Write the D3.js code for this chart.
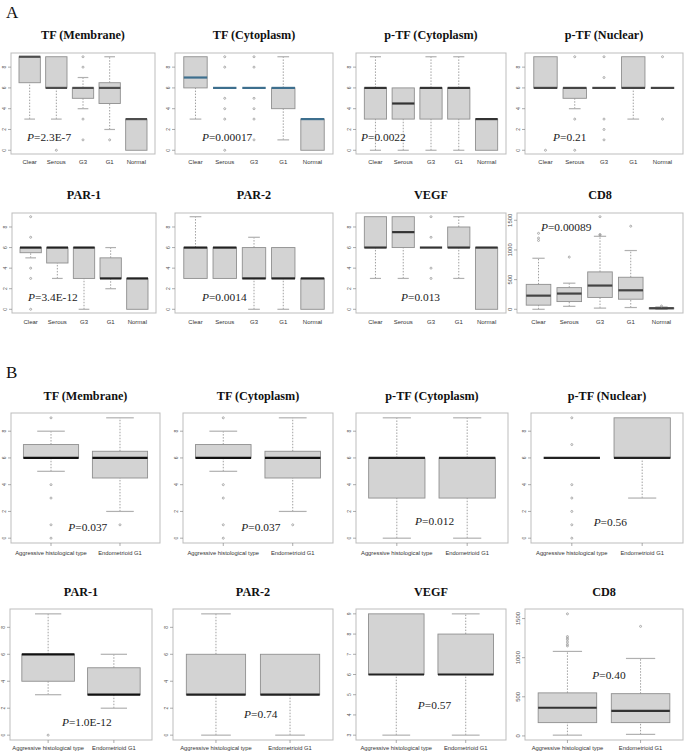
<!DOCTYPE html>
<html>
<head>
<meta charset="utf-8">
<script src="https://cdn.jsdelivr.net/npm/d3@7"></script>
<style>
  html, body { margin: 0; padding: 0; background: #fff; }
  svg { display: block; }
</style>
</head>
<body>
<div id="chart"></div>
<script>
// groups
const groupsA = ['Clear', 'Serous', 'G3', 'G1', 'Normal'];
const groupsB = ['Aggressive histological type', 'Endometrioid G1'];

// box stats per group: [lower whisker, q1, median, q3, upper whisker]
const tfMemA      = [[3, 6.5, 9, 9, 9], [3, 6, 6, 9, 9], [4, 5, 6, 6, 7], [2, 4.5, 6, 6.5, 9], [0, 0, 3, 3, 3]];
const tfMemAOut   = [[], [0], [9, 8, 3, 1], [1], []];
const tfCytA      = [[3, 6, 7, 9, 9], [6, 6, 6, 6, 6], [6, 6, 6, 6, 6], [1, 4, 6, 6, 9], [0, 0, 3, 3, 3]];
const tfCytAOut   = [[], [9, 8, 5, 4, 3, 0], [9, 8, 5, 4, 3, 1], [], []];
const ptfCytA     = [[0, 3, 6, 6, 9], [0, 3, 4.5, 6, 6], [0, 3, 6, 6, 9], [0, 3, 6, 6, 9], [0, 0, 3, 3, 3]];
const ptfCytAOut  = [[], [], [], [], []];
const ptfNucA     = [[6, 6, 6, 9, 9], [4, 5, 6, 6, 6], [6, 6, 6, 6, 6], [3, 6, 6, 9, 9], [6, 6, 6, 6, 6]];
const ptfNucAOut  = [[0], [9, 3, 0], [9, 7, 3, 2, 1], [], [9, 3]];
const par1A       = [[5, 5.5, 6, 6, 6], [3, 4.5, 6, 6, 6], [0, 3, 6, 6, 6], [2, 3, 3, 5, 6], [0, 0, 3, 3, 3]];
const par1AOut    = [[9, 7, 4, 3, 0], [], [], [], []];
const par2A       = [[3, 3, 6, 6, 9], [3, 3, 6, 6, 6], [0, 3, 3, 6, 7], [0, 3, 3, 6, 6], [0, 0, 3, 3, 3]];
const par2AOut    = [[], [], [], [], []];
const vegfA       = [[3, 6, 6, 9, 9], [3, 6, 7.5, 9, 9], [6, 6, 6, 6, 6], [3, 6, 6, 8, 9], [0, 0, 6, 6, 6]];
const vegfAOut    = [[], [], [9, 7, 4, 3], [], []];
const cd8A        = [[0, 70, 230, 420, 860], [50, 130, 265, 365, 440], [20, 200, 400, 630, 1230], [30, 170, 320, 540, 990], [0, 8, 18, 25, 40]];
const cd8AOut     = [[1280, 1200, 1160], [880], [1560, 1260, 1250], [1400], [55]];

const tfMemB      = [[5, 6, 6, 7, 8], [2, 4.5, 6, 6.5, 9]];
const tfMemBOut   = [[9, 4, 3, 1, 0], [1]];
const tfCytB      = [[5, 6, 6, 7, 8], [2, 4.5, 6, 6.5, 9]];
const tfCytBOut   = [[9, 4, 3, 1, 0], [1]];
const ptfCytB     = [[0, 3, 6, 6, 9], [0, 3, 6, 6, 9]];
const ptfCytBOut  = [[], []];
const ptfNucB     = [[6, 6, 6, 6, 6], [3, 6, 6, 9, 9]];
const ptfNucBOut  = [[9, 7, 4, 3, 2, 1, 0], []];
const par1B       = [[3, 4, 6, 6, 9], [2, 3, 3, 5, 6]];
const par1BOut    = [[0], []];
const par2B       = [[0, 3, 3, 6, 9], [0, 3, 3, 6, 6]];
const par2BOut    = [[], []];
const vegfB       = [[3, 6, 6, 9, 9], [3, 6, 6, 8, 9]];
const vegfBOut    = [[], []];
const cd8B        = [[10, 170, 360, 550, 1080], [20, 170, 320, 540, 990]];
const cd8BOut     = [[1560, 1270, 1250, 1230, 1200, 1170, 1150], [1400]];

// tick labels
const ticks09   = [0, 2, 4, 6, 8];
const ticksCD8  = [0, 500, 1000, 1500];
const ticksVegB = [3, 4, 5, 6, 7, 8, 9];

// titles and P values
const titles  = ['TF (Membrane)', 'TF (Cytoplasm)', 'p-TF (Cytoplasm)', 'p-TF (Nuclear)', 'PAR-1', 'PAR-2', 'VEGF', 'CD8'];
const pValsA  = ['2.3E-7', '0.00017', '0.0022', '0.21', '3.4E-12', '0.0014', '0.013', '0.00089'];
const pValsB  = ['0.037', '0.037', '0.012', '0.56', '1.0E-12', '0.74', '0.57', '0.40'];

const W = 686, H = 753;
const SERIF = '"Times New Roman", "Liberation Serif", Tinos, Times, serif';
const SANS  = 'Arial, "Liberation Sans", Helvetica, sans-serif';

const svg = d3.select('#chart').append('svg')
  .attr('width', W).attr('height', H)
  .attr('viewBox', `0 0 ${W} ${H}`);

// panel layout: plot box, title/label rows, where the P text sits (data units)
const panels = [
  { stats: tfMemA,  out: tfMemAOut,  groups: groupsA, ticks: ticks09,  p: pValsA[0], t: titles[0], box: [11, 53, 155, 154],  titleY: 35,  labY: 162, pAt: [0.9, 1.25],  med: '#4d4d4d' },
  { stats: tfCytA,  out: tfCytAOut,  groups: groupsA, ticks: ticks09,  p: pValsA[1], t: titles[1], box: [175, 53, 333, 154], titleY: 35,  labY: 162, pAt: [1.22, 1.25], med: '#3d6f8e' },
  { stats: ptfCytA, out: ptfCytAOut, groups: groupsA, ticks: ticks09,  p: pValsA[2], t: titles[2], box: [356, 53, 506, 154], titleY: 35,  labY: 162, pAt: [0.48, 1.3],  med: '#333' },
  { stats: ptfNucA, out: ptfNucAOut, groups: groupsA, ticks: ticks09,  p: pValsA[3], t: titles[3], box: [525, 53, 683, 154], titleY: 35,  labY: 162, pAt: [1.26, 1.3],  med: '#444' },
  { stats: par1A,   out: par1AOut,   groups: groupsA, ticks: ticks09,  p: pValsA[4], t: titles[4], box: [12, 213, 156, 313], titleY: 195, labY: 322, pAt: [0.9, 1.2],   med: '#222' },
  { stats: par2A,   out: par2AOut,   groups: groupsA, ticks: ticks09,  p: pValsA[5], t: titles[5], box: [175, 213, 333, 313],titleY: 195, labY: 322, pAt: [1.22, 1.2],  med: '#222' },
  { stats: vegfA,   out: vegfAOut,   groups: groupsA, ticks: ticks09,  p: pValsA[6], t: titles[6], box: [356, 213, 506, 313],titleY: 195, labY: 322, pAt: [1.92, 1.2],  med: '#333' },
  { stats: cd8A,    out: cd8AOut,    groups: groupsA, ticks: ticksCD8, p: pValsA[7], t: titles[7], box: [517, 213, 683, 313],titleY: 195, labY: 322, pAt: [1.08, 1386], med: '#444', rotTicks: true },

  { stats: tfMemB,  out: tfMemBOut,  groups: groupsB, ticks: ticks09,  p: pValsB[0], t: titles[0], box: [11, 413, 160, 543], titleY: 396, labY: 553, pAt: [1.25, 0.82], med: '#111', xTicks: true },
  { stats: tfCytB,  out: tfCytBOut,  groups: groupsB, ticks: ticks09,  p: pValsB[1], t: titles[1], box: [183, 413, 333, 543],titleY: 396, labY: 553, pAt: [1.26, 0.82], med: '#111', xTicks: true },
  { stats: ptfCytB, out: ptfCytBOut, groups: groupsB, ticks: ticks09,  p: pValsB[2], t: titles[2], box: [356, 413, 508, 543],titleY: 396, labY: 553, pAt: [1.26, 1.27], med: '#222', xTicks: true },
  { stats: ptfNucB, out: ptfNucBOut, groups: groupsB, ticks: ticks09,  p: pValsB[3], t: titles[3], box: [531, 413, 683, 543],titleY: 396, labY: 553, pAt: [1.31, 1.2],  med: '#222', xTicks: true },
  { stats: par1B,   out: par1BOut,   groups: groupsB, ticks: ticks09,  p: pValsB[4], t: titles[4], box: [10, 609, 152, 740], titleY: 592, labY: 748, pAt: [1.21, 0.98], med: '#111', xTicks: true },
  { stats: par2B,   out: par2BOut,   groups: groupsB, ticks: ticks09,  p: pValsB[5], t: titles[5], box: [173, 609, 333, 740],titleY: 592, labY: 748, pAt: [1.38, 1.6],  med: '#222', xTicks: true },
  { stats: vegfB,   out: vegfBOut,   groups: groupsB, ticks: ticksVegB,p: pValsB[6], t: titles[6], box: [356, 609, 506, 740],titleY: 592, labY: 748, pAt: [1.31, 4.49], med: '#222', xTicks: true },
  { stats: cd8B,    out: cd8BOut,    groups: groupsB, ticks: ticksCD8, p: pValsB[7], t: titles[7], box: [525, 609, 683, 740],titleY: 592, labY: 748, pAt: [1.34, 773],  med: '#333', xTicks: true, rotTicks: true },
];

function drawPanel(p) {
  const [x0, y0, x1, y1] = p.box;
  const n = p.groups.length;
  const g = svg.append('g');

  const x = d3.scaleLinear().domain([0.5 - 0.04 * n, n + 0.5 + 0.04 * n]).range([x0, x1]);
  const all = p.stats.flat().concat(p.out.flat());
  const lo = d3.min(all), hi = d3.max(all);
  const pad = (hi - lo) * 0.04;
  const y = d3.scaleLinear().domain([lo - pad, hi + pad]).range([y1, y0]);

  const bw = x(1.4) - x(1);   // half box width (boxwex 0.8)
  const sw = bw / 2;          // half staple width

  // frame
  g.append('rect')
    .attr('x', x0).attr('y', y0).attr('width', x1 - x0).attr('height', y1 - y0)
    .attr('fill', '#fff').attr('stroke', '#bdbdbd').attr('stroke-width', 1);

  p.stats.forEach((s, i) => {
    const cx = x(i + 1);
    const [wl, q1, md, q3, wh] = s;
    // whiskers
    if (wl < q1) {
      g.append('line').attr('x1', cx).attr('x2', cx).attr('y1', y(wl)).attr('y2', y(q1))
        .attr('stroke', '#a0a0a0').attr('stroke-dasharray', '1.5,1.5');
      g.append('line').attr('x1', cx - sw).attr('x2', cx + sw).attr('y1', y(wl)).attr('y2', y(wl))
        .attr('stroke', '#b0b0b0').attr('stroke-width', 1.2);
    }
    if (wh > q3) {
      g.append('line').attr('x1', cx).attr('x2', cx).attr('y1', y(q3)).attr('y2', y(wh))
        .attr('stroke', '#a0a0a0').attr('stroke-dasharray', '1.5,1.5');
      g.append('line').attr('x1', cx - sw).attr('x2', cx + sw).attr('y1', y(wh)).attr('y2', y(wh))
        .attr('stroke', '#b0b0b0').attr('stroke-width', 1.2);
    }
    // box
    g.append('rect')
      .attr('x', cx - bw).attr('y', y(q3)).attr('width', bw * 2).attr('height', Math.max(0, y(q1) - y(q3)))
      .attr('fill', '#d3d3d3').attr('stroke', '#8f8f8f').attr('stroke-width', 0.9);
    // median
    g.append('line').attr('x1', cx - bw).attr('x2', cx + bw).attr('y1', y(md)).attr('y2', y(md))
      .attr('stroke', p.med).attr('stroke-width', 2.2);
    // outliers
    p.out[i].forEach(v => {
      g.append('circle').attr('cx', cx).attr('cy', y(v)).attr('r', 1)
        .attr('fill', 'none').attr('stroke', '#999').attr('stroke-width', 0.8);
    });
  });

  // y axis ticks + rotated labels
  p.ticks.forEach(t => {
    const ty = y(t);
    g.append('line').attr('x1', x0 - 3).attr('x2', x0).attr('y1', ty).attr('y2', ty)
      .attr('stroke', '#888').attr('stroke-width', 0.7);
    g.append('text')
      .attr('transform', `translate(${x0 - 5},${ty}) rotate(-90)`)
      .attr('text-anchor', 'middle')
      .attr('font-family', SANS).attr('font-size', p.rotTicks ? 6 : 5)
      .attr('fill', '#555')
      .text(t);
  });

  // x labels
  p.groups.forEach((grp, i) => {
    const cx = x(i + 1);
    if (p.xTicks) {
      g.append('line').attr('x1', cx).attr('x2', cx).attr('y1', y1).attr('y2', y1 + 3)
        .attr('stroke', '#888').attr('stroke-width', 0.7);
    }
    g.append('text')
      .attr('x', cx).attr('y', p.labY).attr('dy', '0.35em')
      .attr('text-anchor', 'middle')
      .attr('font-family', SANS).attr('font-size', n > 2 ? 6 : 5.8)
      .attr('fill', '#333')
      .text(grp);
  });

  // title
  g.append('text')
    .attr('x', (x0 + x1) / 2).attr('y', p.titleY).attr('dy', '0.35em')
    .attr('text-anchor', 'middle')
    .attr('font-family', SERIF).attr('font-weight', 'bold').attr('font-size', 12.2)
    .attr('fill', '#111')
    .text(p.t);

  // P value
  const pt = g.append('text')
    .attr('x', x(p.pAt[0])).attr('y', y(p.pAt[1])).attr('dy', '0.35em')
    .attr('font-family', SERIF).attr('font-size', 11.4).attr('fill', '#222');
  pt.append('tspan').attr('font-style', 'italic').text('P');
  pt.append('tspan').text('=' + p.p);
}

panels.forEach(drawPanel);

// section letters
svg.append('text').attr('x', 6).attr('y', 12).attr('dy', '0.35em')
  .attr('font-family', SERIF).attr('font-size', 17).attr('fill', '#111').text('A');
svg.append('text').attr('x', 6).attr('y', 372).attr('dy', '0.35em')
  .attr('font-family', SERIF).attr('font-size', 17).attr('fill', '#111').text('B');
</script>
</body>
</html>
